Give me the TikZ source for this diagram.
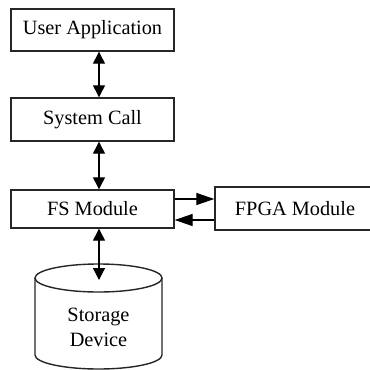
\documentclass[tikz,border=0pt]{standalone}
\usepackage{fontspec}
\setmainfont{Liberation Serif}
\usetikzlibrary{arrows.meta}
\begin{document}
\begin{tikzpicture}[x=1pt,y=-1pt,
  txt/.style={font=\fontsize{20.3}{25}\selectfont},
  box/.style={txt, draw=black!85, line width=1.4pt, inner sep=0pt, minimum width=163pt},
  varr/.style={{Triangle[length=12pt,width=12pt]}-{Triangle[length=12pt,width=12pt]}, line width=1.3pt},
  harr/.style={-{Triangle[length=18pt,width=12pt]}, line width=1.3pt},
  cyl/.style={draw=black!85, line width=1.4pt}]
\useasboundingbox (0,0) rectangle (370,370);
\fill[white] (0,0) rectangle (370,370);
\node[box, minimum height=42pt] (ua) at (92.5,30) {User Application};
\node[box, minimum height=43pt] (sc) at (92.5,119.5) {System Call};
\node[box, minimum height=38pt] (fs) at (92.5,209) {FS Module};
\node[box, minimum width=160pt, minimum height=43pt] (fpga) at (295,208.5) {FPGA Module};
% storage cylinder
\draw[cyl] (98.5,278) ellipse [x radius=63.5pt, y radius=14pt];
\draw[cyl] (35,278) -- (35,355) arc[start angle=180, end angle=360, x radius=63.5pt, y radius=14pt] -- (162,278);
\node[txt, align=center] (sd) at (98.5,327.5) {Storage\\Device};
% connectors
\coordinate (ax) at (99,0);
\coordinate (st) at (99,280);
\coordinate (hy1) at (0,199);
\coordinate (hy2) at (0,220);
\draw[varr] (ua.south -| ax) -- (sc.north -| ax);
\draw[varr] (sc.south -| ax) -- (fs.north -| ax);
\draw[varr] (fs.south -| ax) -- (st);
\draw[harr] (fs.east |- hy1) -- (fpga.west |- hy1);
\draw[harr] (fpga.west |- hy2) -- (fs.east |- hy2);
\end{tikzpicture}
\end{document}
